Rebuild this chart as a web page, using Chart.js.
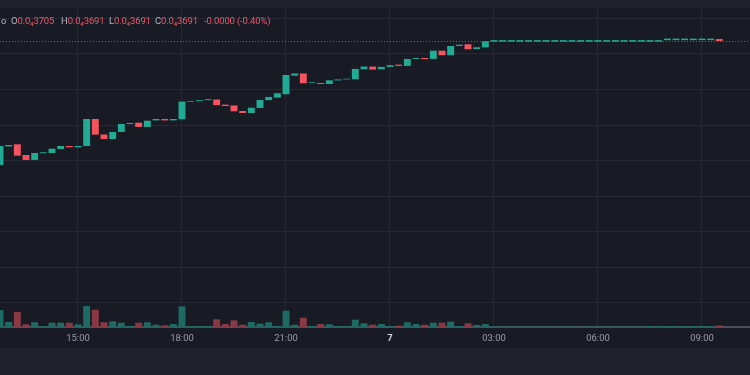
<!DOCTYPE html>
<html>
<head>
<meta charset="utf-8">
<script src="https://cdn.jsdelivr.net/npm/chart.js@4.4.1/dist/chart.umd.min.js"></script>
<style>
  html, body { margin: 0; padding: 0; }
  body { width: 750px; height: 375px; background: #1f222c; position: relative; overflow: hidden; font-family: Roboto, "Noto Sans", sans-serif; }
  #wrap { position: absolute; left: 0; top: 8px; width: 750px; height: 340px; background: #181a24; }
  #legend { position: absolute; left: 0; top: 15px; height: 12px; font-size: 9.5px; line-height: 12px; letter-spacing: -0.15px; }
  #legend span { position: absolute; white-space: nowrap; }
  #legend span span { position: static; }
  .k { color: #b2b5be; }
  .v { color: #e8596b; }
</style>
</head>
<body>
<div id="wrap"><canvas id="myChart"></canvas></div>
<div id="legend">
  <span class="k" style="left:1px">o</span>
  <span style="left:11px"><span class="k">O</span><span class="v">0.0₄3705</span></span>
  <span style="left:61px"><span class="k">H</span><span class="v">0.0₄3691</span></span>
  <span style="left:109px"><span class="k">L</span><span class="v">0.0₄3691</span></span>
  <span style="left:155px"><span class="k">C</span><span class="v">0.0₄3691</span></span>
  <span class="v" style="left:204px">-0.0000 (-0.40%)</span>
</div>
<script>
// 15 minute candles, first one at 12:45
var firstHour = 12.75;
var stepHour = 0.25;

var opens = [2820, 2950, 2965, 2890, 2855, 2902, 2904, 2932, 2953, 2943,
    2953, 3143, 3034, 3002, 3052, 3108, 3117, 3087, 3133, 3143,
    3133, 3141, 3263, 3268, 3275, 3280, 3244, 3238, 3199, 3185,
    3220, 3275, 3293, 3317, 3447, 3463, 3396, 3396, 3389, 3414,
    3421, 3422, 3492, 3511, 3492, 3509, 3525, 3516, 3565, 3572,
    3565, 3623, 3591, 3656, 3668, 3635, 3646, 3686, 3686, 3686,
    3686, 3686, 3686, 3686, 3686, 3686, 3686, 3686, 3686, 3686,
    3686, 3686, 3686, 3686, 3686, 3686, 3686, 3697, 3697, 3697,
    3697, 3697, 3697, 3705];
var closes = [2953, 2960, 2885, 2855, 2904, 2909, 2934, 2953, 2944, 2953,
    3143, 3033, 3002, 3052, 3108, 3115, 3087, 3131, 3143, 3133,
    3143, 3265, 3268, 3275, 3282, 3240, 3234, 3197, 3185, 3222,
    3277, 3298, 3324, 3452, 3463, 3394, 3401, 3389, 3415, 3421,
    3426, 3495, 3512, 3490, 3509, 3521, 3516, 3565, 3572, 3563,
    3623, 3591, 3656, 3665, 3633, 3647, 3689, 3697, 3697, 3697,
    3697, 3697, 3697, 3697, 3697, 3697, 3697, 3697, 3697, 3697,
    3697, 3697, 3697, 3697, 3697, 3697, 3697, 3708, 3708, 3708,
    3708, 3708, 3708, 3691];
var volumes = [17, 5, 15, 2.7, 4.7, 1, 4.3, 4.3, 4.3, 2.7,
    21, 17.3, 4.7, 5.7, 4.3, 1, 4.3, 4.7, 2.3, 1.7,
    3, 20.7, 1, 1, 1, 7.7, 3, 6.7, 2.3, 5,
    3.3, 4.7, 1, 16.3, 2.3, 9.3, 1, 3, 2.7, 1,
    1, 7.3, 3.7, 2.3, 3, 1, 1.3, 4.7, 3, 2.3,
    4.3, 4.3, 5.3, 1, 3.7, 2, 3, 0.5, 0.5, 0.5,
    0.5, 0.5, 0.5, 0.5, 0.5, 0.5, 0.5, 0.5, 0.5, 0.5,
    0.5, 0.5, 0.5, 0.5, 0.5, 1, 1, 1, 1, 1,
    1, 1, 1, 1.5];

var tickHours = [15, 18, 21, 24, 27, 30, 33];
var tickLabels = ['15:00', '18:00', '21:00', '7', '03:00', '06:00', '09:00'];
var gridPrices = [1850, 2100, 2350, 2600, 2850, 3100, 3350, 3600, 3850];

var upColor = '#22ab94';
var downColor = '#f7525f';
var upVol = '#1d6b62';
var downVol = '#8a3944';

var candleData = [];
var volData = [];
var candleColors = [];
var volColors = [];
for (var i = 0; i < opens.length; i++) {
    var t = firstHour + i * stepHour;
    candleData.push({ x: t, y: [opens[i], closes[i]] });
    volData.push({ x: t, y: volumes[i] });
    var up = closes[i] >= opens[i];
    candleColors.push(up ? upColor : downColor);
    volColors.push(up ? upVol : downVol);
}
var lastClose = closes[closes.length - 1];

var priceLine = {
    id: 'priceLine',
    beforeDatasetsDraw: function (chart) {
        var ctx = chart.ctx;
        var y = Math.round(chart.scales.y.getPixelForValue(lastClose)) + 0.5;
        ctx.save();
        ctx.strokeStyle = 'rgba(247,82,95,0.75)';
        ctx.lineWidth = 1;
        ctx.setLineDash([1, 2]);
        ctx.beginPath();
        ctx.moveTo(chart.chartArea.left, y);
        ctx.lineTo(chart.chartArea.right, y);
        ctx.stroke();
        ctx.restore();
    }
};

var ctx = document.getElementById('myChart').getContext('2d');
var myChart = new Chart(ctx, {
    type: 'bar',
    data: {
        datasets: [{
            label: 'Volume',
            data: volData,
            yAxisID: 'yv',
            backgroundColor: volColors,
            grouped: false,
            barPercentage: 0.8,
            categoryPercentage: 1
        }, {
            label: 'Price',
            data: candleData,
            yAxisID: 'y',
            backgroundColor: candleColors,
            grouped: false,
            barPercentage: 0.8,
            categoryPercentage: 1
        }]
    },
    plugins: [priceLine],
    options: {
        responsive: true,
        maintainAspectRatio: false,
        animation: false,
        layout: { padding: 0 },
        plugins: { legend: { display: false }, tooltip: { enabled: false } },
        scales: {
            x: {
                type: 'linear',
                min: 12.75,
                max: 34.385,
                offset: false,
                afterBuildTicks: function (scale) {
                    scale.ticks = tickHours.map(function (v) { return { value: v }; });
                },
                afterFit: function (scale) { scale.height = 21; },
                grid: { color: '#262935', drawTicks: false, offset: false },
                border: { display: true, color: '#4b4f5b', width: 2 },
                ticks: {
                    autoSkip: false,
                    maxRotation: 0,
                    padding: 6,
                    color: function (c) { return c.tick && c.tick.value === 24 ? '#d1d4dc' : '#9a9da6'; },
                    font: function (c) {
                        return { family: 'Roboto', size: 9.5, weight: c.tick && c.tick.value === 24 ? 'bold' : 'normal' };
                    },
                    callback: function (v) { return tickLabels[tickHours.indexOf(v)]; }
                }
            },
            y: {
                position: 'right',
                min: 1681,
                max: 3923,
                afterBuildTicks: function (scale) {
                    scale.ticks = gridPrices.map(function (v) { return { value: v }; });
                },
                afterFit: function (scale) { scale.width = 0; },
                grid: { color: '#262935', drawTicks: false },
                border: { display: false },
                ticks: { display: false }
            },
            yv: {
                display: false,
                min: 0,
                max: 319
            }
        }
    }
});
</script>
</body>
</html>
